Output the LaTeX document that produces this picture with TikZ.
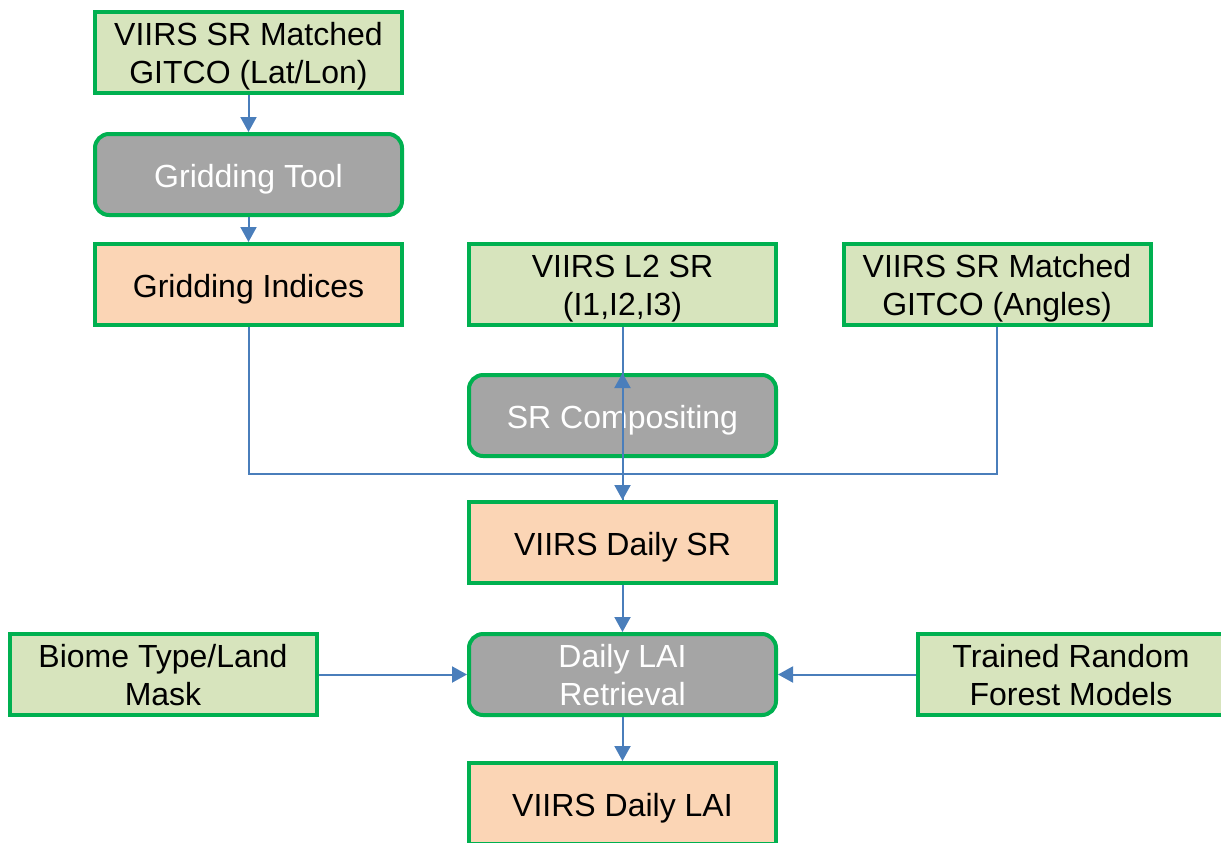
\documentclass[tikz,border=0pt]{standalone}
\usepackage{fontspec}
\setmainfont{Liberation Sans}
\usetikzlibrary{arrows.meta}
\definecolor{rim}{HTML}{00B050}
\definecolor{inputfill}{HTML}{D7E4BD}
\definecolor{productfill}{HTML}{FBD5B5}
\definecolor{procfill}{HTML}{A5A5A5}
\definecolor{wire}{HTML}{4A7EBB}
\tikzset{
  every picture/.style={font=\fontsize{16}{19}\selectfont},
  input/.style={draw=rim, line width=2pt, fill=inputfill, minimum width=153.5pt, minimum height=40.5pt, align=center, inner sep=2pt,
    text height=17.3pt, text depth=4pt},
  product/.style={input, fill=productfill},
  process/.style={input, fill=procfill, text=white, rounded corners=7pt},
  twolines/.style={text height=35.3pt, inner ysep=0pt},
  flow/.style={-{Triangle[length=7.5pt, width=8pt]}, draw=wire, line width=1pt},
  link/.style={draw=wire, line width=1pt},
}
\begin{document}
\begin{tikzpicture}[x=0.5pt, y=-0.5pt]
\useasboundingbox (0,0) rectangle (1221,842);
% gridding branch
\node[input, twolines] (gitcoll) at (248.5,52.5) {VIIRS SR Matched\\GITCO (Lat/Lon)};
\node[process] (tool) at (248.5,174.5) {Gridding Tool};
\node[product] (indices) at (248.5,284.5) {Gridding Indices};
% surface reflectance inputs
\node[input, twolines] (l2sr) at (622.5,284.5) {VIIRS L2 SR\\(I1,I2,I3)};
\node[input, twolines] (angles) at (997,284.5) {VIIRS SR Matched\\GITCO (Angles)};
\node[process] (comp) at (622.5,415.5) {SR Compositing};
\node[product] (dailysr) at (622.5,542.5) {VIIRS Daily SR};
% retrieval
\node[process, twolines] (retrieval) at (622.5,674.5) {Daily LAI\\Retrieval};
\node[input, twolines] (biome) at (163,674.5) {Biome Type/Land\\Mask};
\node[input, twolines] (trained) at (1071,674.5) {Trained Random\\Forest Models};
\node[product] (dailylai) at (622.5,803.5) {VIIRS Daily LAI};
\coordinate (merge) at (622.5,474);

\draw[flow] (gitcoll) -- (tool);
\draw[flow] (tool) -- (indices);
\draw[link] (indices.south) |- (merge) -| (angles.south);
\draw[flow] (l2sr.south) -- (dailysr.north);
\draw[flow] (dailysr.north) -- (comp.north);
\draw[flow] (dailysr) -- (retrieval);
\draw[flow] (biome) -- (retrieval);
\draw[flow] (trained) -- (retrieval);
\draw[flow] (retrieval) -- (dailylai);
\end{tikzpicture}
\end{document}
